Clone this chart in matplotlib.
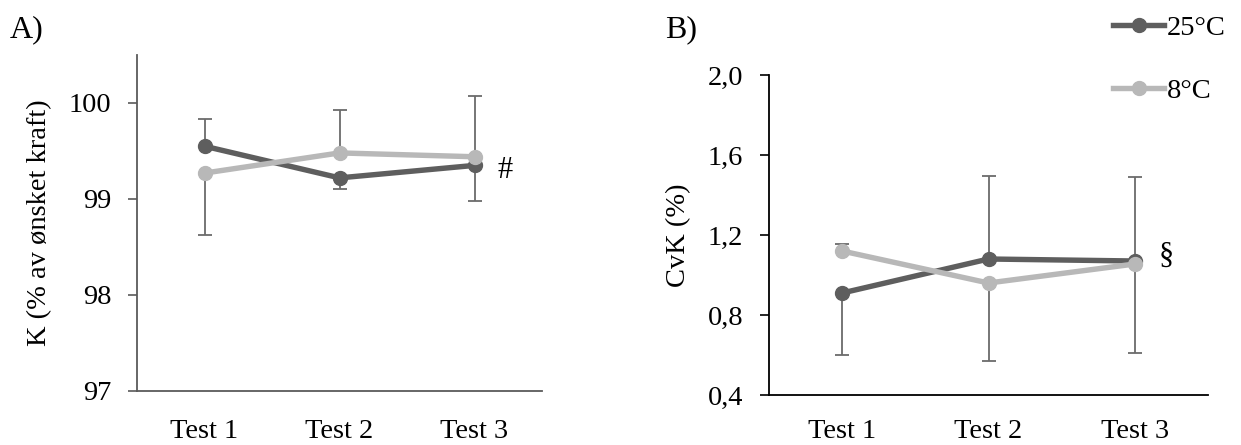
import matplotlib
matplotlib.use('Agg')
import matplotlib.pyplot as plt
import numpy as np

plt.rcParams['font.family'] = ['Liberation Serif', 'DejaVu Serif']
plt.rcParams['font.size'] = 20.5

tests = ['Test 1', 'Test 2', 'Test 3']

# A) force as % of target force
force_25 = [99.55, 99.22, 99.35]
force_8 = [99.27, 99.48, 99.44]
force_25_lo = [0.0, 0.12, 0.37]
force_25_hi = [0.28, 0.0, 0.0]
force_8_lo = [0.65, 0.0, 0.0]
force_8_hi = [0.0, 0.45, 0.63]
force_ticks = [97, 98, 99, 100]

# B) coefficient of variation of force
cv_25 = [0.91, 1.08, 1.07]
cv_8 = [1.12, 0.96, 1.055]
cv_25_lo = [0.31, 0.0, 0.0]
cv_25_hi = [0.0, 0.415, 0.42]
cv_8_lo = [0.0, 0.39, 0.445]
cv_8_hi = [0.035, 0.0, 0.0]
cv_ticks = [0.4, 0.8, 1.2, 1.6, 2.0]

dark = '#5e5e5e'
light = '#b8b8b8'
bar_col = '#6b6b6b'

fig = plt.figure(figsize=(12.41, 4.45), dpi=100)
W, H = 1241, 445
axA = fig.add_axes([137 / W, 1 - 391 / H, (542 - 137) / W, (391 - 55) / H])
axB = fig.add_axes([769 / W, 1 - 395 / H, (1208 - 769) / W, (395 - 75) / H])

x = np.arange(len(tests))


def err_bars(ax, y, lo, hi):
    # one-sided bars: only the non-zero side gets a line and a cap
    y, lo, hi = np.asarray(y), np.asarray(lo), np.asarray(hi)
    ax.vlines(x, y - lo, y + hi, color=bar_col, lw=1.3, zorder=1)
    up = hi > 0
    dn = lo > 0
    ax.plot(x[up], (y + hi)[up], ls='none', marker='_', ms=10.5, mew=1.3,
            color=bar_col, zorder=1)
    ax.plot(x[dn], (y - lo)[dn], ls='none', marker='_', ms=10.5, mew=1.3,
            color=bar_col, zorder=1)


def panel(ax, y25, y8, lo25, hi25, lo8, hi8, spine_col):
    err_bars(ax, y25, lo25, hi25)
    err_bars(ax, y8, lo8, hi8)
    ax.plot(x, y25, '-o', color=dark, lw=3.9, ms=10, label='25°C', zorder=3)
    ax.plot(x, y8, '-o', color=light, lw=3.9, ms=10, label='8°C', zorder=4)
    ax.set_xlim(-0.5, 2.5)
    ax.set_xticks(x)
    ax.set_xticklabels(tests)
    ax.tick_params(axis='y', length=6.5, width=1.2, color=spine_col, pad=12)
    for s in ['top', 'right']:
        ax.spines[s].set_visible(False)
    for s in ['left', 'bottom']:
        ax.spines[s].set_color(spine_col)
        ax.spines[s].set_linewidth(1.3)


panel(axA, force_25, force_8, force_25_lo, force_25_hi, force_8_lo, force_8_hi, '#5a5a5a')
axA.tick_params(axis='x', length=0, pad=20)
axA.set_ylim(97, 100.5)
axA.set_yticks(force_ticks)
axA.set_yticklabels([str(t) for t in force_ticks])
axA.set_ylabel('K (% av ønsket kraft)', labelpad=12)
axA.text(2.17, force_25[2] - 0.05, '#', va='center', ha='left', fontsize=22)

panel(axB, cv_25, cv_8, cv_25_lo, cv_25_hi, cv_8_lo, cv_8_hi, '#000000')
axB.tick_params(axis='x', length=0, pad=17)
axB.set_ylim(0.4, 2.0)
axB.set_yticks(cv_ticks)
axB.set_yticklabels([f'{t:.1f}'.replace('.', ',') for t in cv_ticks])
axB.set_ylabel('CvK (%)', labelpad=12)
axB.text(2.16, cv_25[2] + 0.025, '§', va='center', ha='left', fontsize=22)

fig.text(10 / W, 1 - 30 / H, 'A)', va='center', ha='left', fontsize=23)
fig.text(665 / W, 1 - 30 / H, 'B)', va='center', ha='left', fontsize=23)

fig.legend(*axB.get_legend_handles_labels(), loc='upper left',
           bbox_to_anchor=(1113 / W, 1 - 15 / H), frameon=False,
           handlelength=1.8, handletextpad=0.1, labelspacing=1.3,
           borderpad=0, borderaxespad=0)

fig.savefig('out.png', dpi=100)
